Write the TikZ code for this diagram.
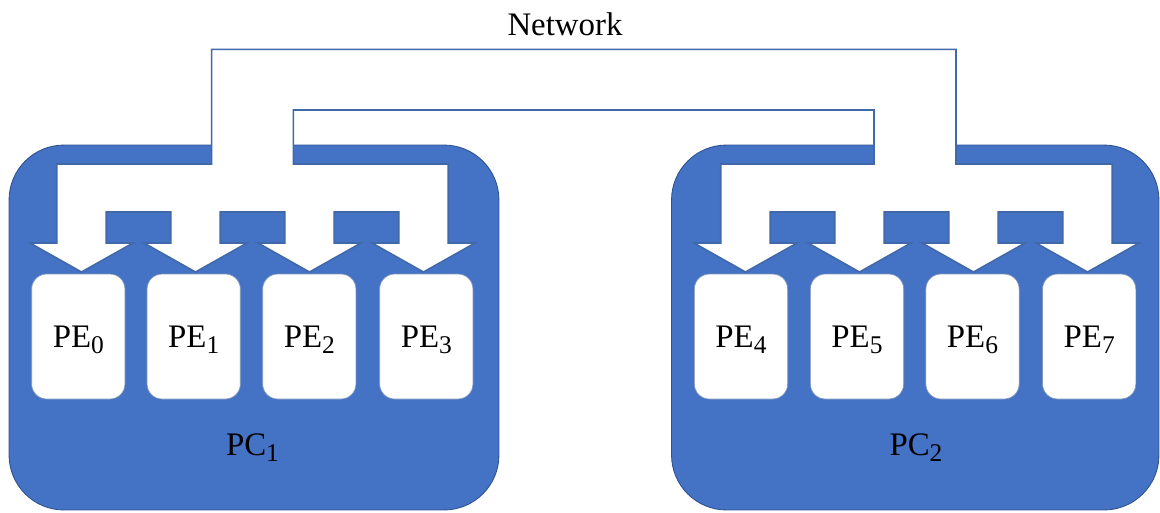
\documentclass[tikz,border=0pt]{standalone}
\usepackage{fontspec}
\setmainfont{Liberation Serif}
\definecolor{pcblue}{HTML}{4472C4}
\definecolor{pcedge}{HTML}{2F528F}
\definecolor{netedge}{HTML}{4169AA}
\newcommand{\mysub}[1]{\raisebox{-0.2em}{\fontsize{14.5}{14.5}\selectfont #1}}
\begin{document}
\begin{tikzpicture}[x=0.02cm,y=-0.02cm,
  pcbox/.style={draw=pcedge,line width=0.5pt,fill=pcblue,rounded corners=1.1cm,inner sep=0pt},
  pebox/.style={draw=pcedge!60,line width=0.4pt,fill=white,rounded corners=0.3cm,
     minimum width=1.866cm,minimum height=2.5cm,inner sep=0pt,text height=12.4pt,text depth=0pt,
     font=\fontsize{18.7}{22}\selectfont},
  lbl/.style={font=\fontsize{18.7}{22}\selectfont,anchor=base,inner sep=0pt},
  net/.style={draw=netedge,line width=0.9pt,fill=white,line join=miter}]
\useasboundingbox (0,0) rectangle (1160,512);
% PC bodies
\node[pcbox,minimum width=9.8cm,minimum height=7.3cm] (pc1) at (254,327.5) {};
\node[pcbox,minimum width=9.75cm,minimum height=7.3cm] (pc2) at (915.25,327.5) {};
% Network shape
\draw[net] (211.7,49.3) -- (956,49.3) -- (956,164) -- (1112.25,164)
  -- (1112.25,243) -- (1139,243) -- (1087.5,272) -- (1036,243) -- (1062.75,243) -- (1062.75,212)
  -- (998.25,212) -- (998.25,243) -- (1025,243) -- (973.5,272) -- (922,243) -- (948.75,243) -- (948.75,212)
  -- (884.25,212) -- (884.25,243) -- (911,243) -- (859.5,272) -- (808,243) -- (834.75,243) -- (834.75,212)
  -- (770.25,212) -- (770.25,243) -- (797,243) -- (745.5,272) -- (694,243) -- (720.75,243) -- (720.75,164)
  -- (874,164) -- (874,110) -- (293.3,110) -- (293.3,164) -- (448.25,164)
  -- (448.25,243) -- (475,243) -- (423.5,272) -- (372,243) -- (398.75,243) -- (398.75,212)
  -- (334.25,212) -- (334.25,243) -- (361,243) -- (309.5,272) -- (258,243) -- (284.75,243) -- (284.75,212)
  -- (220.25,212) -- (220.25,243) -- (247,243) -- (195.5,272) -- (144,243) -- (170.75,243) -- (170.75,212)
  -- (106.25,212) -- (106.25,243) -- (133,243) -- (81.5,272) -- (30,243) -- (56.75,243) -- (56.75,164)
  -- (211.7,164) -- cycle;
% PEs
\node[pebox] (pe0) at (78.3,336.5) {PE\mysub{0}};
\node[pebox] (pe1) at (193.7,336.5) {PE\mysub{1}};
\node[pebox] (pe2) at (309.3,336.5) {PE\mysub{2}};
\node[pebox] (pe3) at (426.3,336.5) {PE\mysub{3}};
\node[pebox] (pe4) at (741,336.5) {PE\mysub{4}};
\node[pebox] (pe5) at (857,336.5) {PE\mysub{5}};
\node[pebox] (pe6) at (972.5,336.5) {PE\mysub{6}};
\node[pebox] (pe7) at (1089.2,336.5) {PE\mysub{7}};
% labels
\node[lbl] (pc1lbl) at (252.5,455) {PC\mysub{1}};
\node[lbl] (pc2lbl) at (916,455) {PC\mysub{2}};
\node[lbl] (netlbl) at (565,35) {Network};
\end{tikzpicture}
\end{document}
